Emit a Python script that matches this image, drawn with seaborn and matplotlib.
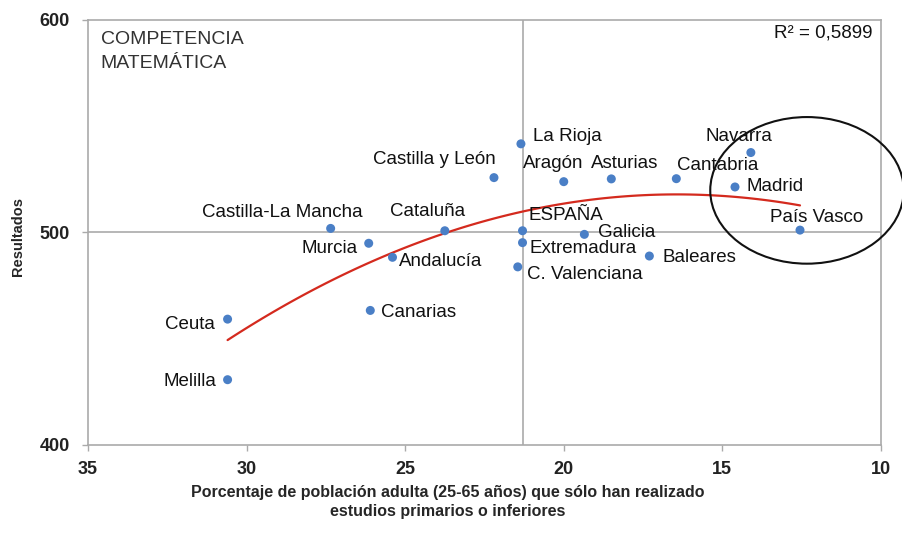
import numpy as np
import pandas as pd
import matplotlib
matplotlib.use('Agg')
import matplotlib.pyplot as plt
import seaborn as sns
from matplotlib.patches import Ellipse

# ── Datos ──
regiones = [
    "Castilla y León", "La Rioja", "Castilla-La Mancha", "Cataluña", "Murcia",
    "ESPAÑA", "Extremadura", "C. Valenciana", "Andalucía", "Canarias",
    "Ceuta", "Melilla", "Aragón", "Asturias", "Cantabria", "Navarra",
    "Madrid", "País Vasco", "Galicia", "Baleares",
]
pct_primarios = [
    22.2, 21.35, 27.35, 23.75, 26.15,
    21.3, 21.3, 21.45, 25.4, 26.1,
    30.6, 30.6, 20.0, 18.5, 16.45, 14.1,
    14.6, 12.55, 19.35, 17.3,
]
resultados = [
    525.6, 541.5, 501.7, 500.6, 494.7,
    500.6, 495.0, 483.6, 488.1, 463.1,
    459.0, 430.5, 523.7, 525.0, 525.1, 537.4,
    521.2, 500.9, 498.9, 488.7,
]
xticks = [35, 30, 25, 20, 15, 10]
yticks = [400, 500, 600]
media_x = 21.3
media_y = 500
r2_texto = "R² = 0,5899"
titulo = "COMPETENCIA\nMATEMÁTICA"

# posición de etiquetas: (ha, dx, dy) en píxeles respecto al punto
ETIQ = {
    "Castilla y León":    ("right", 2, 18),
    "La Rioja":           ("left", 12, 7),
    "Castilla-La Mancha": ("right", 32, 16),
    "Cataluña":           ("center", -17, 19),
    "Murcia":             ("right", -11, -5),
    "ESPAÑA":             ("left", 6, 15),
    "Extremadura":        ("left", 7, -6),
    "C. Valenciana":      ("left", 9, -8),
    "Andalucía":          ("left", 6, -4),
    "Canarias":           ("left", 11, -2),
    "Ceuta":              ("right", -13, -5),
    "Melilla":            ("right", -11, -2),
    "Aragón":             ("center", -11, 18),
    "Asturias":           ("center", 13, 15),
    "Cantabria":          ("left", 1, 13),
    "Navarra":            ("center", -12, 16),
    "Madrid":             ("left", 12, 0),
    "País Vasco":         ("center", 17, 13),
    "Galicia":            ("left", 14, 2),
    "Baleares":           ("left", 13, -1),
}

df = pd.DataFrame({"region": regiones, "x": pct_primarios, "y": resultados})

sns.set_style("white")
plt.rcParams['font.family'] = ['Liberation Sans', 'DejaVu Sans']

fig = plt.figure(figsize=(9.03, 5.5), dpi=100)
ax = fig.add_axes([0.0975, 0.1918, 0.878, 0.7727])

# líneas de referencia (media España)
ax.axvline(media_x, color="#aaaaaa", lw=1.2, zorder=1)
ax.axhline(media_y, color="#aaaaaa", lw=1.2, zorder=1)

# tendencia polinómica de orden 2
sns.regplot(data=df, x="x", y="y", order=2, ci=None, scatter=False, ax=ax,
            line_kws={"color": "#d42a1e", "lw": 1.6, "zorder": 2})

sns.scatterplot(data=df, x="x", y="y", ax=ax, color="#4a7fc6", s=42,
                edgecolor="none", zorder=3)

for _, r in df.iterrows():
    ha, dx, dy = ETIQ[r["region"]]
    ax.annotate(r["region"], (r["x"], r["y"]), xytext=(dx, dy),
                textcoords="offset pixels", ha=ha, va="center",
                fontsize=13.5, color="#111111", zorder=4)

# círculo alrededor de Navarra, Madrid y País Vasco
ax.add_patch(Ellipse((12.33, 519.6), 6.1, 69, fill=False, ec="#111111",
                     lw=1.5, clip_on=False, zorder=5))

ax.text(0.016, 0.972, titulo, transform=ax.transAxes, ha="left", va="top",
        fontsize=14, color="#333333", linespacing=1.5)
ax.text(0.99, 0.988, r2_texto, transform=ax.transAxes, ha="right", va="top",
        fontsize=13.5, color="#111111")

ax.set_xlim(35, 10)
ax.set_ylim(400, 600)
ax.set_xticks(xticks)
ax.set_xticklabels([str(t) for t in xticks], fontsize=13, fontweight="bold",
                   color="#222222")
ax.set_yticks(yticks)
ax.set_yticklabels([str(t) for t in yticks], fontsize=13, fontweight="bold",
                   color="#222222")
ax.tick_params(axis="x", pad=8)
ax.tick_params(axis="y", pad=9)
ax.tick_params(axis="both", length=4, width=1, color="#aaaaaa",
               direction="out", bottom=True, left=True)
for sp in ax.spines.values():
    sp.set_color("#aaaaaa")
    sp.set_linewidth(1.2)

ax.set_xlabel("")
ax.set_ylabel("Resultados", fontsize=10.5, fontweight="bold")
ax.yaxis.set_label_coords(-0.079, 0.49)
fig.text(448 / 903, 1 - 502 / 550,
         "Porcentaje de población adulta (25-65 años) que sólo han realizado\n"
         "estudios primarios o inferiores",
         ha="center", va="center", fontweight="bold",
         fontsize=11.5, linespacing=1.35)

plt.savefig("out.png", dpi=100)
plt.close()
